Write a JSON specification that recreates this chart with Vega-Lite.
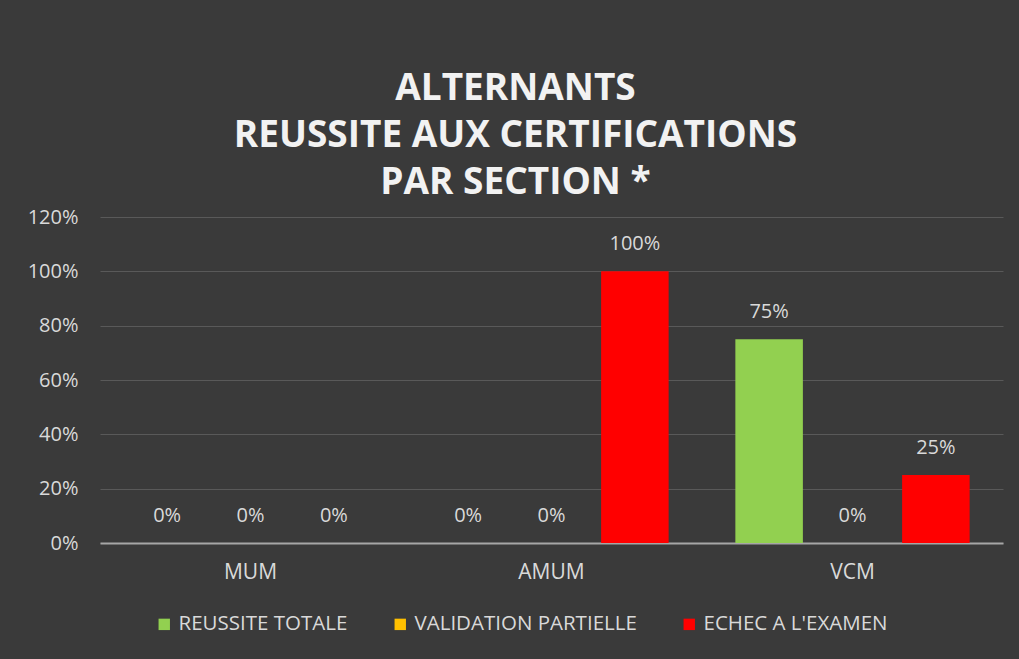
{
  "$schema": "https://vega.github.io/schema/vega-lite/v6.json",
  "autosize": {"type": "none"},
  "width": 903,
  "height": 326,
  "padding": {"left": 100, "top": 217, "right": 16, "bottom": 116},
  "background": "#3a3a3a",
  "title": {
    "text": ["ALTERNANTS", "REUSSITE AUX CERTIFICATIONS", "PAR SECTION *"],
    "anchor": "middle",
    "frame": "group",
    "dx": -36,
    "font": "Open Sans",
    "fontSize": 37,
    "fontWeight": "bold",
    "color": "#f2f2f2",
    "lineHeight": 47,
    "offset": 5
  },
  "data": {
    "values": [
      {"Section": "MUM", "Categorie": "REUSSITE TOTALE", "Taux": 0},
      {"Section": "MUM", "Categorie": "VALIDATION PARTIELLE", "Taux": 0},
      {"Section": "MUM", "Categorie": "ECHEC A L'EXAMEN", "Taux": 0},
      {"Section": "AMUM", "Categorie": "REUSSITE TOTALE", "Taux": 0},
      {"Section": "AMUM", "Categorie": "VALIDATION PARTIELLE", "Taux": 0},
      {"Section": "AMUM", "Categorie": "ECHEC A L'EXAMEN", "Taux": 1},
      {"Section": "VCM", "Categorie": "REUSSITE TOTALE", "Taux": 0.75},
      {"Section": "VCM", "Categorie": "VALIDATION PARTIELLE", "Taux": 0},
      {"Section": "VCM", "Categorie": "ECHEC A L'EXAMEN", "Taux": 0.25}
    ]
  },
  "encoding": {
    "x": {
      "field": "Section",
      "type": "nominal",
      "sort": ["MUM", "AMUM", "VCM"],
      "scale": {"paddingInner": 0, "paddingOuter": 0},
      "axis": {
        "title": null,
        "labelAngle": 0,
        "ticks": false,
        "domainColor": "#a6a6a6",
        "domainWidth": 2,
        "labelColor": "#d9d9d9",
        "labelFont": "Open Sans",
        "labelFontSize": 21,
        "labelPadding": 18,
        "grid": false
      }
    },
    "xOffset": {
      "field": "Categorie",
      "type": "nominal",
      "sort": ["REUSSITE TOTALE", "VALIDATION PARTIELLE", "ECHEC A L'EXAMEN"],
      "scale": {"paddingInner": 0.19, "paddingOuter": 0.4}
    },
    "y": {
      "field": "Taux",
      "type": "quantitative",
      "scale": {"domain": [0, 1.2], "nice": false},
      "axis": {
        "title": null,
        "format": ".0%",
        "values": [0, 0.2, 0.4, 0.6, 0.8, 1.0, 1.2],
        "domain": false,
        "ticks": false,
        "grid": true,
        "gridColor": "#595959",
        "gridWidth": 1.2,
        "labelColor": "#d9d9d9",
        "labelFont": "Open Sans",
        "labelFontSize": 20,
        "labelPadding": 22
      }
    }
  },
  "layer": [
    {
      "mark": {"type": "bar"},
      "encoding": {
        "color": {
          "field": "Categorie",
          "type": "nominal",
          "sort": ["REUSSITE TOTALE", "VALIDATION PARTIELLE", "ECHEC A L'EXAMEN"],
          "scale": {
            "domain": ["REUSSITE TOTALE", "VALIDATION PARTIELLE", "ECHEC A L'EXAMEN"],
            "range": ["#92d050", "#ffc000", "#ff0000"]
          },
          "legend": {
            "title": null,
            "orient": "none",
            "direction": "horizontal",
            "legendX": 54,
            "legendY": 397,
            "symbolType": "square",
            "symbolSize": 130,
            "symbolStrokeWidth": 0,
            "labelColor": "#d9d9d9",
            "labelFont": "Open Sans",
            "labelFontSize": 20.5,
            "labelOffset": 4,
            "columnPadding": 42,
            "labelLimit": 400
          }
        }
      }
    },
    {
      "mark": {
        "type": "text",
        "baseline": "middle",
        "dy": -27,
        "font": "Open Sans",
        "fontSize": 20,
        "color": "#d9d9d9"
      },
      "encoding": {
        "text": {"field": "Taux", "type": "quantitative", "format": ".0%"}
      }
    }
  ],
  "config": {
    "view": {"stroke": null}
  }
}
